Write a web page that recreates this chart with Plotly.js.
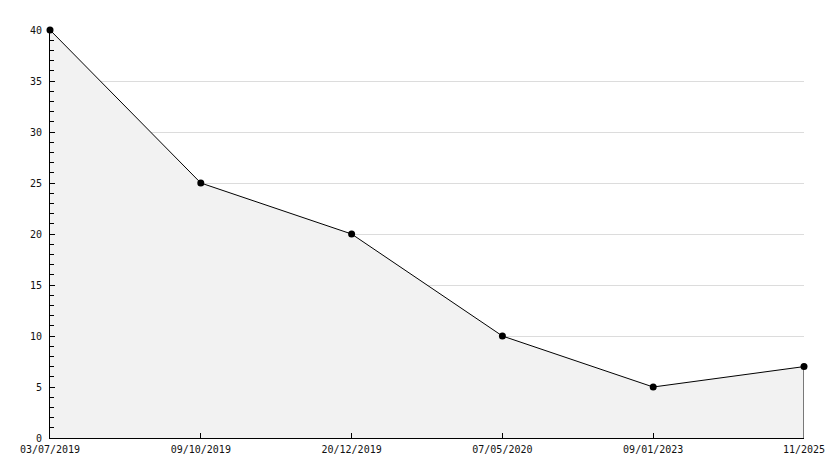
<!DOCTYPE html>
<html><head><meta charset="utf-8">
<script src="https://cdn.plot.ly/plotly-3.0.1.min.js"></script>
<style>html,body{margin:0;padding:0;background:#fff}#c{width:834px;height:468px}</style>
</head><body><div id="c"></div>
<script>
const dates = ["03/07/2019","09/10/2019","20/12/2019","07/05/2020","09/01/2023","11/2025"];
const values = [40, 25, 20, 10, 5, 7];
const yTicks = [0,5,10,15,20,25,30,35,40];

const idx = dates.map((d,i)=>i);
const last = idx[idx.length-1];

const traces = [
  {x: idx, y: values, type:'scatter', mode:'lines+markers', fill:'tozeroy',
   fillcolor:'#f2f2f2', line:{color:'#000', width:1},
   marker:{symbol:'circle', size:7, color:'#000'}, cliponaxis:false, hoverinfo:'none'},
  {x: [last,last], y: [values[last], 0], type:'scatter', mode:'lines',
   line:{color:'#000', width:1}, cliponaxis:false, hoverinfo:'none'}
];
const font = {family:'DejaVu Sans Mono, monospace', size:10, color:'#111'};
const layout = {
  width:834, height:468, showlegend:false,
  margin:{l:50, r:30, t:30, b:30, pad:0},
  paper_bgcolor:'#fff', plot_bgcolor:'#fff', font: font,
  xaxis:{range:[0,last], tickvals: idx, ticktext: dates, ticks:'inside', ticklen:5,
    tickcolor:'#000', showgrid:false, zeroline:false, showline:true, linecolor:'#000',
    linewidth:1, tickfont:font, ticklabelstandoff:2, fixedrange:true},
  yaxis:{range:[0,40], tickvals: yTicks, ticks:'inside', ticklen:5, tickcolor:'#000',
    showgrid:true, gridcolor:'#dcdcdc', gridwidth:1, zeroline:false, showline:true,
    linecolor:'#000', linewidth:1, tickfont:font, ticklabelstandoff:5,
    minor:{dtick:1, ticks:'inside', ticklen:4, tickcolor:'#000', showgrid:false},
    fixedrange:true}
};
Plotly.newPlot('c', traces, layout, {staticPlot:true});
</script></body></html>
